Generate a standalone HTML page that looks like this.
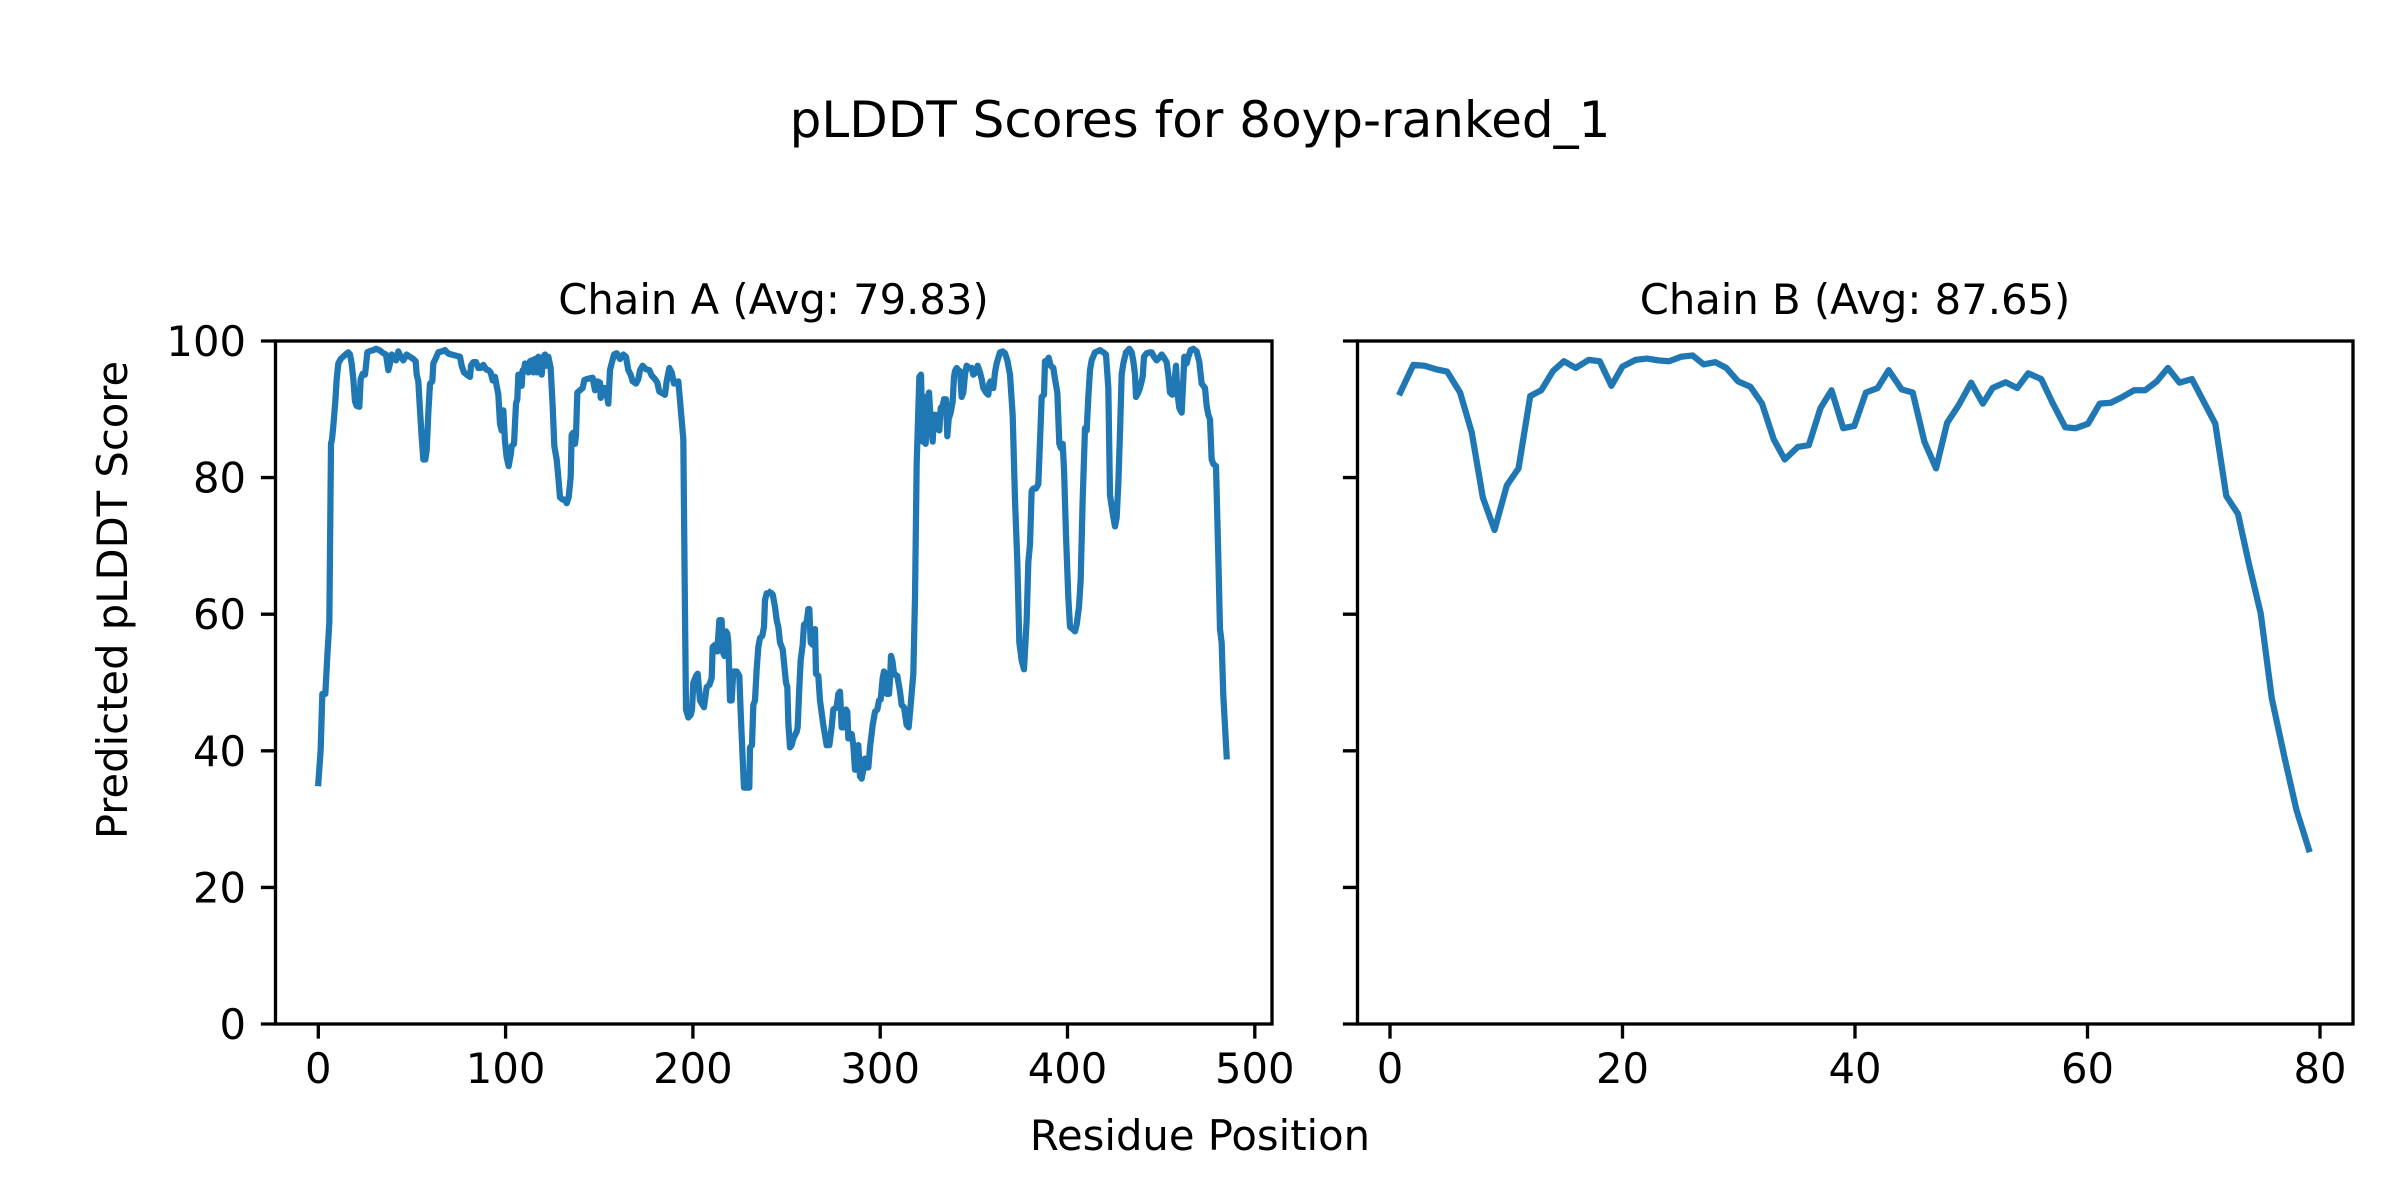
<!DOCTYPE html>
<html><head><meta charset="utf-8"><style>
html,body{margin:0;padding:0;background:#fff;}
svg{display:block;}
text{font-family:"DejaVu Sans","Liberation Sans",sans-serif;fill:#000;}
</style></head><body>
<svg width="2400" height="1200" viewBox="0 0 2400 1200" xmlns="http://www.w3.org/2000/svg">
<rect width="2400" height="1200" fill="#fff"/>
<text x="1200" y="137" font-size="50" text-anchor="middle">pLDDT Scores for 8oyp-ranked_1</text>
<text x="773.5" y="314" font-size="41.7" text-anchor="middle">Chain A (Avg: 79.83)</text>
<text x="1855" y="314" font-size="41.7" text-anchor="middle">Chain B (Avg: 87.65)</text>
<text x="1200" y="1150" font-size="41.7" text-anchor="middle">Residue Position</text>
<text transform="translate(127,600) rotate(-90)" font-size="41.7" text-anchor="middle">Predicted pLDDT Score</text>

<g fill="none" stroke="#1f77b4" stroke-width="6.25" stroke-linejoin="round" stroke-linecap="square">
<polyline vector-effect="non-scaling-stroke" transform="translate(270,330) scale(0.33333,0.44643)" points="145,1015 152,940 157,815 166,815 172,730 178,655 183,255 186,245 190,215 196,160 200,110 205,75 212,65 222,58 235,50 240,55 245,75 250,110 255,160 260,170 268,172 272,110 278,98 285,100 288,80 292,50 300,47 310,45 318,42 328,45 340,52 348,55 355,90 360,75 365,55 372,60 378,68 385,48 392,60 400,68 410,55 420,60 430,65 437,70 440,100 445,115 450,180 455,240 460,290 466,290 470,270 475,185 480,120 487,115 490,75 498,62 505,50 515,48 525,45 535,53 545,55 560,58 570,60 575,80 582,95 590,100 600,105 603,80 610,72 618,72 625,85 632,85 640,78 648,88 655,90 662,95 668,113 675,105 680,125 685,145 690,210 695,225 700,180 705,250 710,285 716,305 722,280 725,260 732,255 738,165 742,155 745,100 750,100 755,125 758,90 762,90 765,75 770,80 775,95 780,70 785,68 790,95 795,65 800,95 805,60 810,65 815,100 820,60 825,55 830,80 835,60 842,85 848,170 853,260 860,290 865,330 870,375 878,380 885,380 890,388 896,375 902,330 905,235 910,230 915,255 918,235 922,140 930,135 938,130 943,112 950,110 960,108 968,107 975,135 982,115 990,118 992,152 998,130 1005,130 1010,145 1015,165 1020,90 1025,75 1032,55 1040,52 1050,65 1060,55 1068,60 1075,90 1082,100 1088,115 1098,120 1105,110 1110,90 1118,80 1128,88 1138,90 1145,102 1155,110 1162,118 1168,138 1178,142 1185,145 1190,115 1198,85 1205,95 1212,120 1220,118 1225,115 1232,175 1240,245 1244,560 1248,850 1255,868 1262,862 1266,850 1270,790 1278,775 1283,770 1290,830 1298,840 1302,845 1310,800 1318,795 1325,780 1328,710 1335,705 1342,720 1348,650 1355,650 1358,720 1363,730 1368,675 1372,680 1375,700 1380,830 1385,830 1390,765 1400,765 1408,775 1412,855 1418,960 1422,1025 1430,1025 1438,1025 1440,935 1446,930 1450,840 1455,830 1460,760 1465,710 1470,690 1477,685 1482,665 1485,605 1490,590 1500,590"/>
<polyline vector-effect="non-scaling-stroke" transform="translate(760,330) scale(0.33333,0.44643)" points="30,588 38,592 45,620 50,650 55,665 60,700 68,715 72,745 78,790 82,800 85,880 90,935 95,930 100,915 110,900 113,890 118,800 122,740 128,705 132,660 140,655 145,625 148,625 152,700 158,705 165,670 168,770 175,775 180,830 190,885 200,930 208,930 215,890 220,850 230,845 235,815 240,810 245,890 252,890 258,850 262,855 265,915 275,905 280,930 285,985 290,985 295,930 300,1000 305,1005 310,985 315,960 320,980 325,980 330,935 338,885 345,855 352,850 357,830 362,828 368,780 372,765 376,770 380,815 387,815 390,785 393,730 397,740 402,770 412,775 420,810 425,840 432,845 440,885 446,890 452,840 460,770 465,600 470,300 478,105 483,100 488,250 493,150 497,255 502,155 507,140 512,200 518,250 522,190 528,190 533,222 538,225 542,175 548,170 552,155 558,155 562,238 566,200 572,185 578,160 582,105 585,92 590,85 595,90 600,92 605,150 610,140 615,100 620,80 628,85 635,85 640,100 648,95 653,80 660,95 665,110 670,130 678,140 685,145 688,120 692,115 700,130 705,95 710,75 715,62 720,50 728,48 735,52 742,68 750,100 758,190 765,380 772,520 778,700 785,740 792,760 800,650 805,520 810,480 815,360 820,355 828,355 835,345 840,250 845,150 852,145 855,70 862,68 866,62 872,80 880,85 885,110 892,140 898,255 903,265 908,255 912,310 918,460 925,600 930,665 938,670 945,675 950,660 957,620 962,560 968,380 975,220 980,225 985,150 990,90 995,68 1005,50 1020,45 1030,50 1038,55 1045,130 1050,370 1058,410 1065,440 1070,420 1075,345 1080,230 1085,100 1090,75 1098,50 1108,42 1115,50 1120,70 1125,100 1128,150 1135,140 1140,130 1148,105 1152,60 1160,52 1170,50 1175,50 1182,60 1190,68 1198,62 1205,55 1210,60 1220,72 1225,100 1230,140 1237,145 1242,130 1248,80 1252,140 1258,175 1265,185 1270,110 1273,60 1280,75 1285,60 1292,45 1300,42 1310,48 1318,72 1325,120 1335,130 1340,170 1345,190 1350,200 1355,290 1360,300 1368,305 1375,510 1380,670 1385,700 1390,820 1400,955"/>
<polyline vector-effect="non-scaling-stroke" transform="translate(1349.7,330) scale(0.64935,0.44643)" points="78,140 98,78 115,80 133,88 150,93 170,140 188,230 205,375 223,448 242,348 260,310 278,148 295,135 313,92 330,70 348,85 368,67 385,70 403,125 420,82 440,67 458,64 475,68 492,70 510,60 528,57 545,77 563,72 580,85 598,115 617,127 635,165 653,245 670,290 690,262 707,258 725,175 742,135 760,220 777,215 795,140 813,130 830,90 850,133 867,140 885,250 903,310 920,208 938,168 957,118 975,165 990,130 1010,117 1028,130 1045,97 1065,110 1083,165 1102,218 1118,220 1137,210 1155,165 1172,163 1190,150 1208,135 1225,135 1243,115 1260,85 1278,118 1297,110 1315,160 1333,210 1350,372 1368,412 1385,525 1403,635 1420,825 1440,960 1458,1075 1477,1163"/>
</g>

<g fill="none" stroke="#000" stroke-width="3.33">
<rect x="275.5" y="341" width="996.5" height="683" stroke-linejoin="miter"/>
<rect x="1357.5" y="341" width="995.5" height="683" stroke-linejoin="miter"/>
<path d="M318.3 1024v14.6M505.6 1024v14.6M692.9 1024v14.6M880.2 1024v14.6M1067.5 1024v14.6M1254.8 1024v14.6"/>
<path d="M1390 1024v14.6M1622.5 1024v14.6M1855 1024v14.6M2087.5 1024v14.6M2320 1024v14.6"/>
<path d="M275.5 1024h-14.6M275.5 887.4h-14.6M275.5 750.8h-14.6M275.5 614.2h-14.6M275.5 477.6h-14.6M275.5 341h-14.6"/>
<path d="M1357.5 1024h-14.6M1357.5 887.4h-14.6M1357.5 750.8h-14.6M1357.5 614.2h-14.6M1357.5 477.6h-14.6M1357.5 341h-14.6"/>
</g>

<g font-size="41.7" text-anchor="middle">
<text x="318.3" y="1083">0</text>
<text x="505.6" y="1083">100</text>
<text x="692.9" y="1083">200</text>
<text x="880.2" y="1083">300</text>
<text x="1067.5" y="1083">400</text>
<text x="1254.8" y="1083">500</text>
<text x="1390" y="1083">0</text>
<text x="1622.5" y="1083">20</text>
<text x="1855" y="1083">40</text>
<text x="2087.5" y="1083">60</text>
<text x="2320" y="1083">80</text>
</g>
<g font-size="41.7" text-anchor="end">
<text x="246" y="1039">0</text>
<text x="246" y="902.4">20</text>
<text x="246" y="765.8">40</text>
<text x="246" y="629.2">60</text>
<text x="246" y="492.6">80</text>
<text x="246" y="356">100</text>
</g>
</svg>
</body></html>
